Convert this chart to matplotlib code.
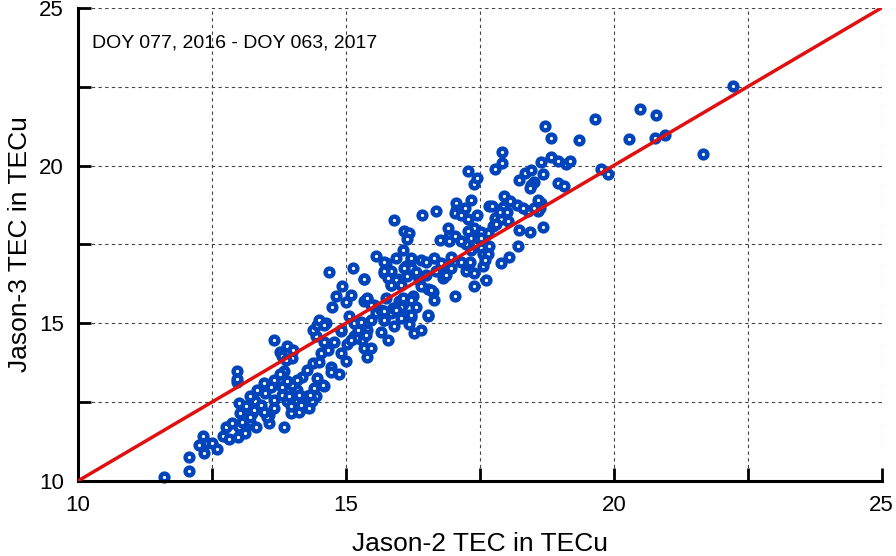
import matplotlib
matplotlib.use("Agg")
import matplotlib.pyplot as plt
from matplotlib.ticker import MultipleLocator
import numpy as np

plt.rcParams['font.family'] = ['Liberation Sans', 'DejaVu Sans']

# TEC pairs (Jason-2, Jason-3), in TECu
jason2 = [
    # lower left
    11.61, 12.07, 12.08, 12.35, 12.25, 12.34, 12.40, 12.50, 12.60, 12.71, 12.82, 12.77,
    12.88, 12.98, 13.00, 13.11, 13.16, 13.07, 13.22, 13.33, 13.25, 13.84, 13.00, 13.03,
    13.56, 13.56, 13.50, 13.97, 13.81, 12.97,
    # 13 - 15
    12.97, 12.97, 13.66, 13.77, 13.91, 14.02, 13.81, 13.84, 13.66, 13.60, 13.47, 13.35,
    13.31, 13.41, 13.22, 13.13, 13.66, 13.81, 13.91, 14.09, 14.00, 14.19, 14.28, 14.38,
    14.47, 14.41, 14.28, 14.44, 14.09, 14.19, 14.31, 13.97, 13.53, 14.53, 14.66, 14.78,
    14.44, 14.38, 14.47, 14.63, 14.91, 15.03, 15.16, 15.00, 15.16, 14.72, 14.88, 14.60,
    13.28, 13.47, 13.66, 13.22,
    14.13, 14.36, 13.78, 13.90, 13.94, 14.13,
    # 14.5 - 16.5
    14.69, 15.14, 15.34, 14.92, 14.81, 14.75, 15.00, 15.09, 15.34, 15.40, 14.50, 14.59,
    14.59, 14.91, 15.06, 15.22, 15.31, 15.40, 15.47, 15.56, 15.65, 15.72, 15.84, 16.00,
    16.06, 16.15, 16.21, 15.75, 15.84, 15.97, 16.15, 16.28, 16.12, 16.21, 15.72, 14.00,
    16.54, 16.28, 16.40, 16.18, 16.03, 15.78, 15.90, 15.72, 15.65, 15.37, 15.34, 15.47,
    15.40, 15.19,
    # 15.5 - 17.5
    16.09, 16.18, 16.15, 15.90, 15.56, 15.72, 16.06, 15.94, 16.22, 16.40, 17.56, 17.62,
    17.25, 17.40, 16.97, 16.84, 16.68, 16.50, 16.37, 16.22, 16.09, 15.84, 15.72, 15.78,
    15.94, 15.84, 15.34, 16.40, 16.53, 16.62, 16.65, 17.03, 16.25, 16.31, 16.06, 16.03,
    15.88, 15.72, 15.53, 15.40, 16.53, 16.22,
    17.39, 17.28, 16.81,
    # 16.5 - 18.7
    17.28, 17.40, 17.44, 16.43, 16.68, 17.06, 17.06, 17.22, 17.34, 17.03, 17.15, 17.28,
    17.44, 17.68, 17.93, 18.40, 18.65, 18.62, 18.59, 17.78, 17.90, 18.02, 17.74, 17.65,
    17.53, 17.40, 17.28, 17.34, 17.25, 16.93, 17.03, 16.90, 16.75, 16.93, 17.15, 17.46,
    17.53, 17.68, 17.56, 17.65, 17.59, 17.90, 18.05, 18.21, 18.24, 18.43, 18.68, 17.31,
    16.96, 16.65, 16.78,
    # 17.7 - 20
    18.71, 18.83, 19.35, 19.65, 17.92, 17.92, 17.79, 18.64, 18.83, 18.96, 19.10, 19.19,
    19.77, 19.89, 18.24, 18.35, 18.46, 18.68, 18.52, 18.46, 18.43, 18.96, 19.08, 17.96,
    18.06, 18.20, 18.31, 17.72, 17.88, 18.58, 18.52,
    # upper right
    22.22, 20.49, 20.79, 20.29, 20.77, 20.95, 21.67,
    # dense core
    14.16, 14.34, 14.57, 14.49, 14.72, 14.08, 13.88, 14.91, 15.09, 15.28, 15.47, 15.75,
    16.03, 16.31, 16.50, 15.94, 16.22, 16.59, 16.87, 17.15, 17.34, 17.53, 17.81, 18.00,
]
jason3 = [
    10.13, 10.32, 10.77, 10.88, 11.14, 11.41, 11.20, 11.20, 11.02, 11.43, 11.32, 11.72,
    11.83, 11.39, 11.72, 11.53, 11.78, 11.88, 11.88, 11.72, 12.15, 11.72, 12.47, 12.15,
    11.83, 12.10, 12.78, 12.15, 12.99, 13.15,
    13.47, 13.23, 14.48, 14.10, 14.29, 14.16, 13.97, 13.47, 13.21, 12.99, 13.10, 12.89,
    12.52, 12.40, 12.68, 12.36, 12.57, 12.73, 12.52, 12.89, 13.05, 13.31, 13.52, 13.73,
    13.26, 12.94, 12.68, 12.68, 12.55, 12.31, 12.31, 12.36, 12.04, 14.05, 14.16, 14.40,
    14.58, 14.80, 14.95, 15.00, 14.05, 14.35, 14.58, 13.80, 15.00, 13.60, 13.40, 13.00,
    12.25, 12.20, 12.31, 12.04,
    12.17, 12.55, 13.39, 13.16, 12.69, 12.72,
    16.62, 16.75, 16.41, 16.19, 15.85, 15.53, 15.66, 15.90, 15.72, 15.76, 15.11, 14.95,
    14.42, 14.74, 15.22, 14.79, 14.48, 14.79, 15.11, 15.32, 15.42, 15.11, 15.32, 15.69,
    15.60, 15.27, 15.20, 16.91, 16.22, 16.40, 16.50, 16.60, 16.80, 17.00, 16.60, 13.90,
    15.22, 14.69, 14.80, 14.96, 15.17, 14.48, 14.90, 15.10, 14.73, 14.63, 14.20, 14.20,
    13.93, 14.53,
    17.91, 17.86, 17.67, 18.28, 17.14, 16.93, 17.31, 17.07, 17.07, 17.01, 16.80, 16.38,
    16.65, 16.59, 16.75, 16.59, 16.64, 16.52, 16.38, 16.75, 16.75, 16.64, 16.64, 16.43,
    16.38, 16.22, 16.40, 16.17, 16.10, 16.00, 15.74, 15.85, 15.85, 15.53, 15.80, 15.53,
    15.48, 15.38, 15.58, 15.80, 15.27, 15.27,
    16.17, 16.85, 16.43,
    19.82, 19.40, 19.60, 18.44, 18.55, 18.82, 18.60, 18.65, 18.90, 18.50, 18.44, 18.30,
    18.44, 18.73, 18.70, 18.55, 18.82, 18.65, 18.55, 18.35, 18.30, 18.25, 18.07, 17.86,
    17.90, 18.03, 17.92, 17.71, 17.50, 17.77, 17.77, 18.03, 17.65, 17.60, 17.60, 17.70,
    17.40, 17.45, 17.18, 17.18, 17.02, 16.90, 17.10, 17.45, 17.97, 17.90, 18.05, 16.95,
    17.10, 17.07, 16.90,
    21.25, 20.86, 20.80, 21.46, 20.42, 20.08, 19.89, 20.10, 20.27, 20.13, 20.05, 20.13,
    19.90, 19.74, 19.53, 19.77, 19.85, 19.72, 19.48, 19.38, 19.28, 19.45, 19.34, 19.03,
    18.87, 18.76, 18.65, 18.73, 18.52, 18.92, 18.65,
    22.52, 21.80, 21.59, 20.85, 20.88, 20.98, 20.38,
    12.41, 12.73, 13.05, 13.78, 13.46, 13.21, 13.84, 14.79, 14.48, 15.05, 15.59, 15.81,
    16.22, 16.63, 16.95, 15.43, 15.75, 16.06, 16.54, 16.95, 17.33, 17.71, 18.13, 18.54,
]

period = "DOY 077, 2016 - DOY 063, 2017"
lims = [10, 25]

fig = plt.figure(figsize=(8.96, 5.56), dpi=100)
ax = fig.add_axes([0.087, 0.135, 0.897, 0.851])

ax.plot(jason2, jason3, linestyle='none', marker='o', markersize=5.6,
        markerfacecolor='white', markeredgecolor='#0044BB', markeredgewidth=3.2,
        zorder=2, clip_on=False)
ax.plot(lims, lims, color='#E01010', linewidth=2.5, zorder=3)

ax.set_xlim(lims)
ax.set_ylim(lims)
ax.xaxis.set_major_locator(MultipleLocator(5))
ax.yaxis.set_major_locator(MultipleLocator(5))
ax.xaxis.set_minor_locator(MultipleLocator(2.5))
ax.yaxis.set_minor_locator(MultipleLocator(2.5))

ax.grid(True, which='both', color='#444444', linestyle=(0, (3, 3)), linewidth=0.8, zorder=0)
ax.set_axisbelow(True)

for s in ['top', 'right']:
    ax.spines[s].set_visible(False)
for s in ['left', 'bottom']:
    ax.spines[s].set_linewidth(2.2)

ax.tick_params(which='both', direction='in', length=9.5, width=2.0, color='black')
ax.tick_params(which='major', labelsize=16, pad=10)

ax.set_xlabel('Jason-2 TEC in TECu', fontsize=19, labelpad=12)
ax.set_ylabel('Jason-3 TEC in TECu', fontsize=19, labelpad=5)

ax.text(0.0174, 0.926, period, transform=ax.transAxes, fontsize=14,
        ha='left', va='center')

fig.savefig('out.png', dpi=100)
